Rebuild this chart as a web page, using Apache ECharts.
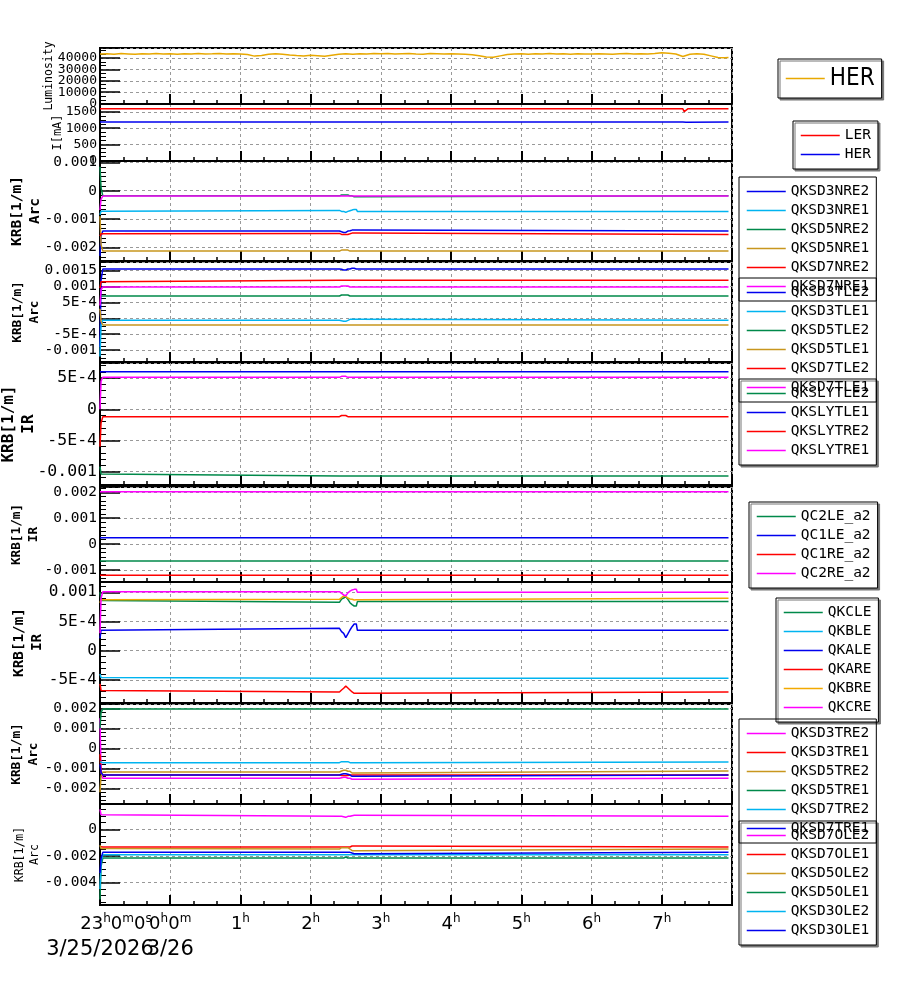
<!DOCTYPE html>
<html><head><meta charset="utf-8">
<script src="https://cdn.jsdelivr.net/npm/echarts@6/dist/echarts.min.js"></script>
<style>html,body{margin:0;padding:0;background:#fff}#c{width:900px;height:984px}</style>
</head><body><div id="c"></div>
<script>
// ---------- DATA ----------
// Luminosity (HER), hours since 23:00 3/25
const lumT = [0,0.1,0.2,0.3,0.4,0.5,0.6,0.7,0.8,0.9,1.0,1.1,1.2,1.3,1.4,1.5,1.6,1.7,1.8,1.9,2.0,2.1,2.2,2.3,2.4,2.5,2.6,2.7,2.8,2.9,3.0,3.1,3.2,3.3,3.4,3.5,3.6,3.7,3.8,3.9,4.0,4.1,4.2,4.3,4.4,4.5,4.6,4.7,4.8,4.9,5.0,5.1,5.2,5.3,5.4,5.5,5.6,5.7,5.8,5.9,6.0,6.1,6.2,6.3,6.4,6.5,6.6,6.7,6.8,6.9,7.0,7.1,7.2,7.3,7.4,7.5,7.6,7.7,7.8,7.9,8.0,8.1,8.2,8.3,8.4,8.5,8.6,8.7,8.8,8.9,8.95];
const lumHER = [43400,43600,43300,43800,43500,43200,43700,43500,43900,43400,43600,43300,43700,43500,43800,43400,43600,43900,43500,43700,43400,43000,41600,42200,43300,43600,43200,42600,42100,41800,42300,41900,41500,42400,43300,43600,43200,43700,43500,43900,43600,43800,43400,43700,43900,43500,43300,43800,43600,43400,43700,43500,43200,42800,42000,40800,40600,41800,43000,43400,43600,43300,43700,43500,43800,43400,43600,43300,43700,43500,43400,43700,43500,43300,43600,43800,43500,43700,43400,43800,44600,44200,43500,41200,43200,43700,43300,41800,40300,40200,40400];

// Beam currents [mA]
const curT   = [0, 8.30, 8.32, 8.345, 8.37, 8.95];
const curLER = [1600, 1600, 1515, 1570, 1600, 1600];
const curHER = [1190, 1190, 1150, 1185, 1190, 1190];

// common time grid for KRB panels (hours since 23:00)
const T  = [0, 0.015, 0.04, 3.41, 3.44, 3.47, 3.50, 3.53, 3.56, 3.59, 3.62, 3.65, 3.665, 8.95];
const T6 = [0, 8.95];

// Panel 3: Arc (NRE)
const qksd3nre2 = [-0.0023,-0.0016,-0.001424,-0.001424,-0.001448,-0.001471,-0.001471,-0.001424,-0.001413,-0.001389,-0.001389,-0.001389,-0.001424,-0.001424];
const qksd3nre1 = [-0.00085,-0.00072,-0.000694,-0.000694,-0.000729,-0.000729,-0.000764,-0.000729,-0.000705,-0.000682,-0.000658,-0.000658,-0.000729,-0.000729];
const qksd5nre2 = [0.00085,0.0001,-0.00018,-0.00018,-0.00015,-0.00015,-0.00015,-0.00015,-0.00018,-0.00018,-0.000216,-0.000216,-0.00018,-0.00018];
const qksd5nre1 = [-0.0009,-0.0019,-0.002131,-0.002131,-0.002096,-0.002096,-0.002096,-0.002096,-0.002131,-0.002131,-0.002131,-0.002131,-0.002131,-0.002131];
const qksd7nre2 = [-0.0016,-0.00152,-0.001506,-0.001506,-0.001542,-0.001542,-0.001542,-0.001542,-0.00152,-0.001495,-0.001495,-0.001495,-0.001542,-0.001542];
const qksd7nre1 = [-0.00068,-0.0003,-0.000187,-0.000187,-0.000187,-0.000187,-0.000187,-0.000187,-0.000187,-0.000187,-0.000187,-0.000187,-0.000187,-0.000187];

// Panel 4: Arc (TLE)
const qksd3tle2 = [-0.0009,0.0012,0.00155,0.00155,0.00154,0.001519,0.001519,0.00155,0.00155,0.001571,0.001571,0.00155,0.00155,0.00155];
const qksd3tle1 = [-0.0012,-0.0002,-0.000064,-0.000064,-0.00008,-0.000095,-0.000095,-0.000064,-0.000032,-0.000032,-0.000032,-0.000032,-0.000064,-0.000064];
const qksd5tle2 = [0.00069,0.0007,0.000701,0.000701,0.000733,0.000733,0.000733,0.000733,0.000701,0.000701,0.000701,0.000701,0.000701,0.000701];
const qksd5tle1 = [0.0003,-0.0001,-0.000211,-0.000211,-0.000211,-0.000211,-0.000211,-0.000211,-0.000211,-0.000211,-0.000211,-0.000211,-0.000211,-0.000211];
const qksd7tle2 = [0.00095,0.00115,0.001194,0.001194,0.001194,0.001194,0.001194,0.001194,0.001194,0.001194,0.001194,0.001194,0.001194,0.001194];
const qksd7tle1 = [0.0004,0.0009,0.000984,0.000984,0.001016,0.001016,0.001016,0.001016,0.000984,0.000984,0.000984,0.000984,0.000984,0.000984];

// Panel 5: IR (SLY)
const qkslytle2 = [-0.00092,-0.00104,-0.001072,-0.001072,-0.001072,-0.001072,-0.001072,-0.001072,-0.001072,-0.001072,-0.001072,-0.001072,-0.001072,-0.001072];
const qkslytle1 = [0.000605,0.000605,0.000605,0.000605,0.000605,0.000605,0.000605,0.000605,0.000605,0.000605,0.000605,0.000605,0.000605,0.000605];
const qkslytre2 = [-0.0006,-0.00022,-0.000119,-0.000119,-0.0001,-0.0001,-0.0001,-0.000119,-0.000119,-0.000119,-0.000119,-0.000119,-0.000119,-0.000119];
const qkslytre1 = [0,0.00045,0.000514,0.000514,0.00053,0.00053,0.00053,0.000514,0.000514,0.000514,0.000514,0.000514,0.000514,0.000514];

// Panel 6: IR (QC)
const qc2le = [-0.000659,-0.000659];
const qc1le = [0.000244,0.000244];
const qc1re = [-0.001213,-0.001213];
const qc2re = [0.002027,0.002027];

// Panel 7: IR (QK)
const qkcle = [0.001,0.00086,0.000828,0.000828,0.000885,0.000902,0.000925,0.00088,0.000822,0.000788,0.000765,0.000765,0.00084,0.00084];
const qkble = [-0.0004,-0.00046,-0.000473,-0.000473,-0.000473,-0.000473,-0.000473,-0.000473,-0.000473,-0.000473,-0.000473,-0.000473,-0.000473,-0.000473];
const qkale = [0.00021,0.00035,0.000383,0.000383,0.000326,0.000297,0.000223,0.000286,0.000354,0.000411,0.000457,0.000457,0.000349,0.000349];
const qkare = [-0.00057,-0.00068,-0.000707,-0.000707,-0.000673,-0.000644,-0.000605,-0.000639,-0.000673,-0.000707,-0.00073,-0.00073,-0.000707,-0.000707];
const qkbre = [0.00082,0.00087,0.00088,0.00088,0.000908,0.000937,0.000925,0.000902,0.000885,0.00088,0.000868,0.000874,0.000897,0.000897];
const qkcre = [0.0003,0.0009,0.00101,0.00101,0.00098,0.000954,0.00094,0.00099,0.00102,0.00104,0.00105,0.00105,0.001,0.001];

// Panel 8: Arc (TRE)
const qksd3tre2 = [0.0015,-0.0012,-0.0015,-0.0015,-0.001468,-0.00145,-0.00145,-0.0015,-0.0015,-0.00155,-0.00155,-0.00155,-0.0015,-0.0015];
const qksd3tre1 = [-0.0003,-0.0012,-0.00134,-0.00134,-0.001357,-0.001357,-0.001357,-0.001357,-0.00134,-0.00134,-0.00134,-0.00134,-0.00134,-0.00134];
const qksd5tre2 = [-0.0022,-0.0014,-0.001185,-0.001185,-0.001135,-0.0011,-0.0011,-0.00115,-0.00115,-0.001235,-0.001235,-0.001235,-0.001135,-0.001135];
const qksd5tre1 = [0.001,0.0018,0.001965,0.001965,0.001965,0.001965,0.001965,0.001965,0.001965,0.001965,0.001965,0.001965,0.001965,0.001965];
const qksd7tre2 = [-0.00068,-0.0007,-0.000718,-0.000718,-0.000668,-0.000668,-0.000668,-0.000668,-0.000718,-0.000718,-0.000718,-0.000718,-0.000685,-0.000685];
const qksd7tre1 = [-0.0008,-0.0012,-0.001335,-0.001335,-0.0013,-0.001268,-0.001268,-0.0013,-0.001335,-0.0014,-0.0014,-0.0014,-0.001335,-0.001335];

// Panel 9: Arc (OLE)
const qksd7ole2 = [0.0015,0.0011,0.000979,0.000979,0.000979,0.000953,0.000906,0.000979,0.000979,0.001029,0.001054,0.001054,0.000979,0.000979];
const qksd7ole1 = [-0.0013,-0.00134,-0.001336,-0.001336,-0.001336,-0.001336,-0.001336,-0.001336,-0.001336,-0.00126,-0.00126,-0.00126,-0.001336,-0.001336];
const qksd5ole2 = [-0.0012,-0.00145,-0.001487,-0.001487,-0.001386,-0.001386,-0.001386,-0.001386,-0.001487,-0.001613,-0.001613,-0.001613,-0.001487,-0.001487];
const qksd5ole1 = [-0.0053,-0.0028,-0.002166,-0.002166,-0.002166,-0.002166,-0.00209,-0.002166,-0.002166,-0.002166,-0.002166,-0.002166,-0.002166,-0.002166];
const qksd3ole2 = [-0.0045,-0.0025,-0.001915,-0.001915,-0.001915,-0.001915,-0.001915,-0.001915,-0.001915,-0.001915,-0.001915,-0.001915,-0.001915,-0.001915];
const qksd3ole1 = [-0.0033,-0.0022,-0.001738,-0.001738,-0.001738,-0.001738,-0.001738,-0.001738,-0.001738,-0.00179,-0.001839,-0.001839,-0.001738,-0.001738];

// axis text
const dateText = ['3/25/2026', '3/26'];

// ---------- STYLE / LAYOUT ----------
const MONO = 'DejaVu Sans Mono';
const COL = {blue:'#0000ee', lblue:'#00b4f0', green:'#00894a', gold:'#c8961e', red:'#ff0000', mag:'#ff00ff', orange:'#f2a900', lum:'#e8a800'};

const panels = [
  {top:48,  height:56,  min:-300,      max:48700,    split:5, step:10000,  minor:3, lab:13,   labLH:11, name:'Luminosity',     nSize:11.5, nW:'normal', nGap:44,   nLH:14},
  {top:104, height:57,  min:-20,       max:1750,     split:4, step:500,    minor:4, lab:13,   labLH:12, name:'I[mA]',          nSize:12,   nW:'normal', nGap:35,   nLH:14},
  {top:161, height:100, min:-0.00248,  max:0.00105,  split:4, step:0.001,  minor:6, lab:14.5, labLH:14, name:'KRB[1/m]\nArc',  nSize:14.5, nW:'bold',   nGap:56,   nLH:18},
  {top:262, height:100, min:-0.001374, max:0.00177,  split:6, step:0.0005, minor:4, lab:14.5, labLH:13, name:'KRB[1/m]\nArc',  nSize:12.8, nW:'bold',   nGap:56.5, nLH:17},
  {top:363, height:122, min:-0.001217, max:0.000744, split:4, step:0.0005, minor:5, lab:16.5, labLH:16, name:'KRB[1/m]\nIR',   nSize:16,   nW:'bold',   nGap:61,   nLH:20},
  {top:487, height:95,  min:-0.001473, max:0.00221,  split:4, step:0.001,  minor:6, lab:14.5, labLH:14, name:'KRB[1/m]\nIR',   nSize:12.7, nW:'bold',   nGap:57.5, nLH:17},
  {top:582, height:121, min:-0.000896, max:0.001176, split:4, step:0.0005, minor:5, lab:16,   labLH:16, name:'KRB[1/m]\nIR',   nSize:14.3, nW:'bold',   nGap:54,   nLH:18},
  {top:704, height:100, min:-0.002785, max:0.002215, split:5, step:0.001,  minor:5, lab:14.5, labLH:14, name:'KRB[1/m]\nArc',  nSize:12.8, nW:'bold',   nGap:57.5, nLH:17},
  {top:804, height:101, min:-0.00571,  max:0.00191,  split:4, step:0.002,  minor:4, lab:14.5, labLH:14, name:'KRB[1/m]\nArc',  nSize:11.5, nW:'normal', nGap:57.5, nLH:15}
];

function pair(t, v) { return t.map((x, i) => [x, v[i]]); }

const seriesDefs = [
  [ ['HER', COL.lum, lumT, lumHER] ],
  [ ['LER', COL.red, curT, curLER], ['HER ', COL.blue, curT, curHER] ],
  [ ['QKSD3NRE2',COL.blue,T,qksd3nre2],['QKSD3NRE1',COL.lblue,T,qksd3nre1],['QKSD5NRE2',COL.green,T,qksd5nre2],['QKSD5NRE1',COL.gold,T,qksd5nre1],['QKSD7NRE2',COL.red,T,qksd7nre2],['QKSD7NRE1',COL.mag,T,qksd7nre1] ],
  [ ['QKSD3TLE2',COL.blue,T,qksd3tle2],['QKSD3TLE1',COL.lblue,T,qksd3tle1],['QKSD5TLE2',COL.green,T,qksd5tle2],['QKSD5TLE1',COL.gold,T,qksd5tle1],['QKSD7TLE2',COL.red,T,qksd7tle2],['QKSD7TLE1',COL.mag,T,qksd7tle1] ],
  [ ['QKSLYTLE2',COL.green,T,qkslytle2],['QKSLYTLE1',COL.blue,T,qkslytle1],['QKSLYTRE2',COL.red,T,qkslytre2],['QKSLYTRE1',COL.mag,T,qkslytre1] ],
  [ ['QC2LE_a2',COL.green,T6,qc2le],['QC1LE_a2',COL.blue,T6,qc1le],['QC1RE_a2',COL.red,T6,qc1re],['QC2RE_a2',COL.mag,T6,qc2re] ],
  [ ['QKCLE',COL.green,T,qkcle],['QKBLE',COL.lblue,T,qkble],['QKALE',COL.blue,T,qkale],['QKARE',COL.red,T,qkare],['QKBRE',COL.orange,T,qkbre],['QKCRE',COL.mag,T,qkcre] ],
  [ ['QKSD3TRE2',COL.mag,T,qksd3tre2],['QKSD3TRE1',COL.red,T,qksd3tre1],['QKSD5TRE2',COL.gold,T,qksd5tre2],['QKSD5TRE1',COL.green,T,qksd5tre1],['QKSD7TRE2',COL.lblue,T,qksd7tre2],['QKSD7TRE1',COL.blue,T,qksd7tre1] ],
  [ ['QKSD7OLE2',COL.mag,T,qksd7ole2],['QKSD7OLE1',COL.red,T,qksd7ole1],['QKSD5OLE2',COL.gold,T,qksd5ole2],['QKSD5OLE1',COL.green,T,qksd5ole1],['QKSD3OLE2',COL.lblue,T,qksd3ole2],['QKSD3OLE1',COL.blue,T,qksd3ole1] ]
];

const legendBoxes = [
  {left:778, top:59,  white:true,  big:true},
  {left:793, top:121, white:true},
  {left:739, top:177, white:false},
  {left:739, top:278, white:false},
  {left:739, top:379, white:true},
  {left:749, top:502, white:true},
  {left:776, top:598, white:true},
  {left:739, top:719, white:false},
  {left:739, top:821, white:true}
];

function fmtNum(v) {
  if (Math.abs(v) < 1e-12) return '0';
  if (Math.abs(v) >= 1) return String(Math.round(v));
  const r = +v.toPrecision(6);
  if (Math.abs(r) < 0.001) return r.toExponential().replace('e', 'E');
  return String(r);
}

const timeRich = {
  d:{fontFamily:'DejaVu Sans', fontSize:18, color:'#000', lineHeight:22},
  u:{fontFamily:'DejaVu Sans', fontSize:12, color:'#000', lineHeight:4, verticalAlign:'top'},
  p:{width:32}
};
function isInt(v) { return Math.abs(v - Math.round(v)) < 1e-6; }
function timeLabel(v) {
  if (!isInt(v)) return '';
  const i = Math.round(v);
  if (i === 1) return '{d|0}{u|h}{d|0}{u|m}';
  if (i >= 2 && i <= 8) return '{d|' + (i - 1) + '}{u|h}';
  return '';
}

const grid = [], xAxis = [], yAxis = [], series = [], legend = [];
panels.forEach((p, k) => {
  const last = k === panels.length - 1;
  grid.push({left:100, right:168, top:p.top, height:p.height, show:true, borderColor:'#000', borderWidth:2,
             backgroundColor:'transparent', containLabel:false, outerBoundsMode:'none'});
  xAxis.push({
    type:'value', gridIndex:k, min:0, max:9, interval:1,
    axisLine:{show:true, onZero:false, lineStyle:{color:'#000', width:2}},
    axisTick:{show:true, inside:true, length:10, lineStyle:{color:'#000', width:2}},
    minorTick:{show:true, splitNumber:3, length:4, lineStyle:{color:'#000', width:1.5}},
    splitLine:{show:true, lineStyle:{color:'#999', type:[3,3], width:1}},
    axisLabel: last ? {show:true, margin:8, formatter: timeLabel, hideOverlap:false, rich:timeRich} : {show:false}
  });
  const step = p.step;
  yAxis.push({
    type:'value', gridIndex:k, min:p.min, max:p.max, splitNumber:p.split,
    name:p.name, nameLocation:'middle', nameRotate:90, nameGap:p.nGap, nameMoveOverlap:false,
    nameTextStyle:{fontFamily:MONO, fontSize:p.nSize, fontWeight:p.nW, color:'#000', lineHeight:p.nLH},
    axisLine:{show:true, onZero:false, lineStyle:{color:'#000', width:2}},
    axisTick:{show:true, inside:true, length:20, lineStyle:{color:'#000', width:1.5}},
    minorTick:{show:true, splitNumber:p.minor, length:6, lineStyle:{color:'#000', width:1}},
    splitLine:{show:true, lineStyle:{color:'#999', type:[3,3], width:1}},
    axisLabel:{show:true, margin:3, fontFamily:MONO, fontSize:p.lab, lineHeight:p.labLH, color:'#000', hideOverlap:false,
      formatter: v => { const q = v / step; return Math.abs(q - Math.round(q)) > 1e-6 ? '' : fmtNum(v); }}
  });
  const items = [];
  seriesDefs[k].forEach(([name, color, t, vals]) => {
    items.push({name, itemStyle:{opacity:0}, lineStyle:{color, width:1.5, opacity:1}});
    series.push({
      type:'line', name, xAxisIndex:k, yAxisIndex:k, data:pair(t, vals),
      symbol:'none', showSymbol:false, animation:false, silent:true,
      lineStyle:{color, width:1.5}, itemStyle:{color}
    });
  });
  const lb = legendBoxes[k];
  legend.push({
    orient:'vertical', left:lb.left, top:lb.top, data:items, selectedMode:false,
    itemWidth:39, itemHeight:14, itemGap:4, padding:7,
    borderColor:'#000', borderWidth:1,
    backgroundColor: lb.white ? '#fff' : 'transparent',
    shadowColor: lb.white ? '#777' : 'transparent', shadowOffsetX: lb.white ? 2 : 0, shadowOffsetY: lb.white ? 2 : 0, shadowBlur:0,
    z: lb.white ? 4 : 6,
    formatter: n => n.trim(),
    textStyle: lb.big ? {fontFamily:'DejaVu Sans Condensed, DejaVu Sans', fontSize:24, color:'#000', lineHeight:25}
                      : {fontFamily:MONO, fontSize:14.5, color:'#000', lineHeight:14}
  });
});

// extra label-only axes on the bottom panel: first time label and the two date labels
function labelAxis(margin, labelOpt) {
  return {
    type:'value', gridIndex:8, min:0, max:9, interval:1, position:'bottom',
    axisLine:{show:false, onZero:false}, axisTick:{show:false}, splitLine:{show:false}, minorTick:{show:false},
    axisLabel:Object.assign({show:true, margin, hideOverlap:false}, labelOpt)
  };
}
xAxis.push(labelAxis(8, {rich:timeRich, formatter: v => (isInt(v) && Math.round(v) === 0) ? '{p|}{d|23}{u|h}{d|0}{u|m}{d|0}{u|s}' : ''}));
xAxis.push(labelAxis(34, {fontFamily:'DejaVu Sans', fontSize:21, color:'#000', formatter: v => (isInt(v) && Math.round(v) === 0) ? dateText[0] : ''}));
xAxis.push(labelAxis(34, {fontFamily:'DejaVu Sans', fontSize:21, color:'#000', formatter: v => (isInt(v) && Math.round(v) === 1) ? dateText[1] : ''}));

const chart = echarts.init(document.getElementById('c'), null, {renderer:'canvas'});
chart.setOption({animation:false, backgroundColor:'#fff', grid, xAxis, yAxis, series, legend});
</script>
</body></html>
